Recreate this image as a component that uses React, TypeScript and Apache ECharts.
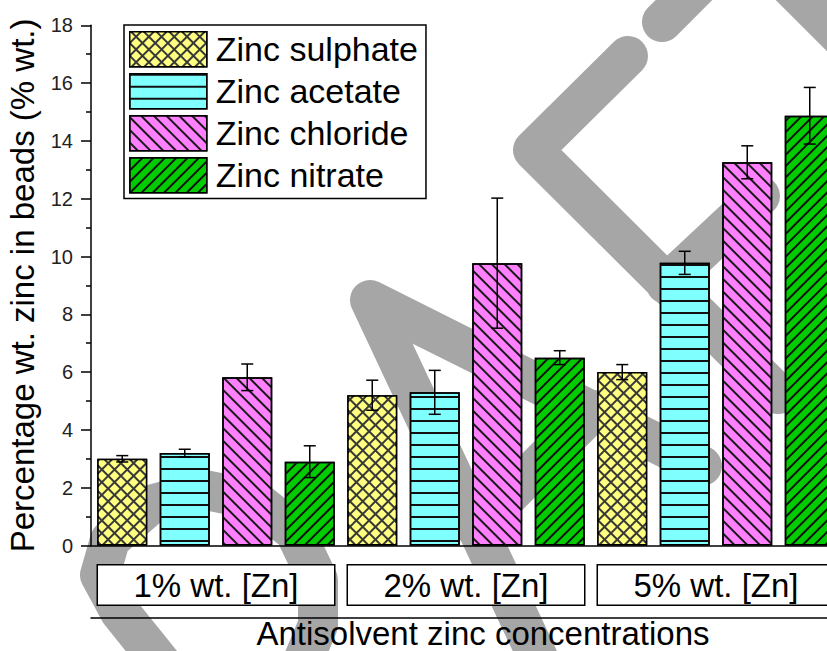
import React, { useEffect, useRef } from 'react';
import * as echarts from 'echarts';

// Concentration groups and zinc salts
const groups = ['1% wt. [Zn]', '2% wt. [Zn]', '5% wt. [Zn]'];
const salts = ['Zinc sulphate', 'Zinc acetate', 'Zinc chloride', 'Zinc nitrate'];

// Mean zinc content (% wt.) per group, with standard deviations
const sulphate = [3.0, 5.2, 6.0];
const sulphateErr = [0.11, 0.52, 0.26];
const acetate = [3.2, 5.3, 9.78];
const acetateErr = [0.13, 0.76, 0.4];
const chloride = [5.82, 9.77, 13.26];
const chlorideErr = [0.46, 2.25, 0.57];
const nitrate = [2.9, 6.5, 14.87];
const nitrateErr = [0.55, 0.24, 0.98];

// Y axis ticks
const yTicks = [0, 2, 4, 6, 8, 10, 12, 14, 16, 18];

const FONT = '"Liberation Sans", Arial, sans-serif';

// Background "draft" lettering strokes (page pixels)
const draftStrokes: number[][][] = [
  [[165, 668], [120, 612], [100, 575], [110, 540], [150, 505], [205, 490], [255, 500], [295, 532], [318, 580], [318, 625], [300, 668]],
  [[540, 662], [370, 300], [702, 466]],
  [[476, 528], [594, 410]],
  [[628, 56], [533, 150], [778, 394]],
  [[666, 284], [760, 196]],
  [[662, 22], [830, -146]],
  [[744, -60], [990, 186]],
];

const App: React.FC = () => {
  const ref = useRef<HTMLDivElement>(null);

  useEffect(() => {
    if (!ref.current) return;
    const chart = echarts.init(ref.current, undefined, { renderer: 'svg' });

    const slots = groups.flatMap((g) => salts.map((s) => `${g} ${s}`));
    const values = [sulphate, acetate, chloride, nitrate];
    const errors = [sulphateErr, acetateErr, chlorideErr, nitrateErr];
    // sulphate uses a dark base under yellow diamonds, giving a cross-hatch
    const fills = ['#383838', '#80ffff', '#ff80ff', '#00cc00'];

    const decals: any[] = [
      {
        symbol: 'rect', symbolSize: 1, color: '#ffff80',
        dashArrayX: [6.5, 1.5], dashArrayY: [6.5, 1.5], rotation: Math.PI / 4,
      },
      { symbol: 'rect', symbolSize: 1, color: '#111', dashArrayX: [1, 0], dashArrayY: [2, 10], rotation: 0 },
      { symbol: 'rect', symbolSize: 1, color: '#1a1a1a', dashArrayX: [1, 0], dashArrayY: [1.5, 6.5], rotation: Math.PI / 4 },
      { symbol: 'rect', symbolSize: 1, color: '#111', dashArrayX: [1, 0], dashArrayY: [2, 6], rotation: -Math.PI / 4 },
    ];

    const barSeries = salts.map((name, s) => ({
      name,
      type: 'bar',
      barWidth: 50,
      barGap: '-100%',
      data: slots.map((_, i) => (i % salts.length === s ? values[s][Math.floor(i / salts.length)] : '-')),
      itemStyle: { color: fills[s], borderColor: '#000', borderWidth: 1.5, decal: decals[s] },
    }));

    const errData: number[][] = [];
    values.forEach((vals, s) => {
      vals.forEach((v, g) => {
        errData.push([g * salts.length + s, v - errors[s][g], v + errors[s][g]]);
      });
    });

    const option: any = {
      animation: false,
      grid: { left: 91, top: 25.3, width: 750, height: 520.2, outerBoundsMode: 'none', containLabel: false },
      legend: {
        data: salts,
        orient: 'vertical',
        left: 124,
        top: 25,
        icon: 'rect',
        itemWidth: 77,
        itemHeight: 35,
        itemGap: 5.5,
        padding: [6, 8, 5, 5],
        borderColor: '#000',
        borderWidth: 1.5,
        backgroundColor: '#fff',
        selectedMode: false,
        itemStyle: { borderColor: '#000', borderWidth: 1.5 },
        textStyle: { fontFamily: FONT, fontSize: 34, color: '#000', lineHeight: 35, padding: [0, 0, 0, 4] },
      },
      xAxis: [
        {
          type: 'category',
          position: 'bottom',
          data: slots,
          axisLine: { lineStyle: { color: '#000', width: 1.5 } },
          axisTick: { alignWithLabel: true, length: 8, lineStyle: { color: '#000', width: 1.5 } },
          axisLabel: { show: false },
        },
        {
          type: 'category',
          position: 'bottom',
          data: slots,
          axisLine: { show: false },
          axisTick: { length: 3, lineStyle: { color: '#000', width: 1 } },
          axisLabel: { show: false },
        },
        {
          type: 'category',
          position: 'bottom',
          data: groups,
          axisLine: { show: false },
          axisTick: { show: false },
          axisLabel: {
            show: true,
            interval: 0,
            margin: 20,
            fontFamily: FONT,
            fontSize: 33,
            color: '#000',
            backgroundColor: '#fff',
            borderColor: '#000',
            borderWidth: 1.5,
            width: 236,
            align: 'center',
            lineHeight: 35,
            padding: [2, 0, 2, 0],
          },
        },
        {
          type: 'category',
          position: 'bottom',
          offset: 72,
          data: groups,
          axisLine: { show: true, lineStyle: { color: '#000', width: 1.5 } },
          axisTick: { show: false },
          axisLabel: { show: false },
          name: 'Antisolvent zinc concentrations',
          nameLocation: 'middle',
          nameGap: 0,
          nameTextStyle: { fontFamily: FONT, fontSize: 33, color: '#000', lineHeight: 32, padding: [0, 0, 0, 34] },
        },
      ],
      yAxis: {
        type: 'value',
        min: yTicks[0],
        max: yTicks[yTicks.length - 1],
        interval: yTicks[1] - yTicks[0],
        name: 'Percentage wt. zinc in beads (% wt.)',
        nameLocation: 'middle',
        nameRotate: 90,
        nameGap: 52,
        nameTextStyle: { fontFamily: FONT, fontSize: 33, color: '#000' },
        axisLine: { show: true, lineStyle: { color: '#000', width: 1.5 } },
        axisTick: { show: true, length: 10, lineStyle: { color: '#000', width: 1.5 } },
        minorTick: { show: true, splitNumber: 2, length: 5, lineStyle: { color: '#000', width: 1.5 } },
        splitLine: { show: false },
        axisLabel: { fontFamily: FONT, fontSize: 20, color: '#222', margin: 18 },
      },
      graphic: {
        elements: draftStrokes.map((points) => ({
          type: 'polyline',
          z: -10,
          silent: true,
          shape: { points },
          style: { stroke: '#a6a6a6', lineWidth: 40, lineCap: 'round', lineJoin: 'round', fill: null },
        })),
      },
      series: [
        ...barSeries,
        {
          type: 'custom',
          name: 'error',
          z: 5,
          data: errData,
          encode: { x: 0, y: [1, 2] },
          renderItem: (_params: any, api: any) => {
            const x = api.value(0);
            const top = api.coord([x, api.value(2)]);
            const bot = api.coord([x, api.value(1)]);
            const h = 6;
            const st = { stroke: '#000', lineWidth: 1.5 };
            return {
              type: 'group',
              children: [
                { type: 'line', shape: { x1: top[0], y1: top[1], x2: bot[0], y2: bot[1] }, style: st },
                { type: 'line', shape: { x1: top[0] - h, y1: top[1], x2: top[0] + h, y2: top[1] }, style: st },
                { type: 'line', shape: { x1: bot[0] - h, y1: bot[1], x2: bot[0] + h, y2: bot[1] }, style: st },
              ],
            };
          },
        },
      ],
    };

    chart.setOption(option);
    return () => chart.dispose();
  }, []);

  return (
    <div style={{ position: 'fixed', left: 0, top: 0, width: 827, height: 651, overflow: 'hidden', background: '#fff' }}>
      <div ref={ref} style={{ width: 860, height: 651 }} />
    </div>
  );
};

export default App;
